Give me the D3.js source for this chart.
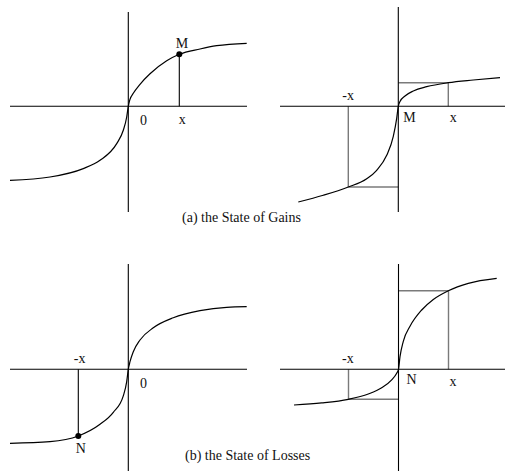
<!DOCTYPE html>
<html>
<head>
<meta charset="utf-8">
<script src="https://cdn.jsdelivr.net/npm/d3@7"></script>
<style>
  html, body { margin: 0; padding: 0; background: #fff; }
  svg { display: block; }
  text { font-family: "Liberation Serif", "Times New Roman", serif; font-size: 14px; fill: #111; }
</style>
</head>
<body>
<svg id="chart" width="505" height="471"></svg>
<script>
// ---- data (units relative to each panel's origin) ----
const valueCurveGains = [
  [-118.3, -74], [-78.3, -70.7], [-45, -62.3], [-28.3, -54], [-11.6, -37.3],
  [-5, -24], [-1.6, -10.7], [0, 0], [1.5, 6.5], [5, 13], [11.7, 22],
  [21.7, 32.5], [38.4, 45.5], [51, 52], [71.7, 57.3], [88.4, 60.6], [118.4, 63]
];
const weightedCurveGains = [
  [-100, -95.7], [-75, -89], [-50, -80.7], [-31.6, -72.5], [-21.6, -64],
  [-11.6, -49], [-5, -30], [-1.6, -12], [0, 0], [1.7, 4.8], [6.7, 10.3],
  [15, 15.3], [28.4, 19.6], [50, 23.6], [75, 26.3], [101.7, 28.7]
];
const valueCurveLosses = [
  [-118.3, -74], [-78.3, -72.4], [-50, -66.7], [-28.3, -55], [-15, -43],
  [-5, -26.5], [-1.6, -12.4], [0, 0], [1.7, 7.6], [5, 17.6], [11.7, 29.3],
  [25, 41.5], [45, 51.5], [71.7, 58.6], [98.4, 62], [118.4, 62.6]
];
const weightedCurveLosses = [
  [-104.5, -35.7], [-76.8, -33.6], [-50.2, -30], [-30.2, -24.7], [-16.8, -18.5],
  [-6.8, -10.5], [-1.8, -4], [0, 0], [1.5, 12.6], [4.8, 28], [11.5, 43],
  [23.2, 59.3], [34.8, 69.8], [49.8, 78.5], [69.8, 86], [98.2, 91]
];
const pointM = [51, 52];
const pointN = [-50, -66.7];
const boxGains = { xPos: 50, yPos: 23.6, xNeg: -50, yNeg: -80.7 };
const boxLosses = { xPos: 50, yPos: 78.5, xNeg: -50, yNeg: -30 };
const captions = ["(a) the State of Gains", "(b) the State of Losses"];

// ---- layout ----
const panels = [
  { ox: 128.3, oy: 106.3, xAxis: [-118.3, 118.7], yAxis: [-105.7, 94.3] },
  { ox: 398.3, oy: 106.3, xAxis: [-118.3, 106.7], yAxis: [-105.7, 99.3] },
  { ox: 128.3, oy: 369.3, xAxis: [-118.3, 118.7], yAxis: [-102, 105.3] },
  { ox: 398.5, oy: 369.3, xAxis: [-118.5, 106.5], yAxis: [-102, 105.3] }
];

const svg = d3.select("#chart");

function makeScales(p) {
  return {
    x: d3.scaleLinear().domain([-100, 100]).range([p.ox - 100, p.ox + 100]),
    y: d3.scaleLinear().domain([-100, 100]).range([p.oy + 100, p.oy - 100])
  };
}

function drawAxes(g, p, s) {
  g.append("line")
    .attr("x1", s.x(p.xAxis[0])).attr("x2", s.x(p.xAxis[1]))
    .attr("y1", s.y(0)).attr("y2", s.y(0))
    .attr("stroke", "#000").attr("stroke-width", 1.1);
  g.append("line")
    .attr("x1", s.x(0)).attr("x2", s.x(0))
    .attr("y1", s.y(p.yAxis[0])).attr("y2", s.y(p.yAxis[1]))
    .attr("stroke", "#000").attr("stroke-width", 1.1);
}

function drawCurve(g, data, s) {
  const line = d3.line()
    .x(d => s.x(d[0])).y(d => s.y(d[1]))
    .curve(d3.curveMonotoneX);
  g.append("path").datum(data)
    .attr("d", line)
    .attr("fill", "none").attr("stroke", "#000").attr("stroke-width", 1.2);
}

function drawBox(g, b, s) {
  const gray = "#7a7a7a";
  const segs = [
    [[0, b.yPos], [b.xPos, b.yPos]],
    [[b.xPos, b.yPos], [b.xPos, 0]],
    [[b.xNeg, 0], [b.xNeg, b.yNeg]],
    [[b.xNeg, b.yNeg], [0, b.yNeg]]
  ];
  g.selectAll("line.box").data(segs).enter().append("line")
    .attr("class", "box")
    .attr("x1", d => s.x(d[0][0])).attr("y1", d => s.y(d[0][1]))
    .attr("x2", d => s.x(d[1][0])).attr("y2", d => s.y(d[1][1]))
    .attr("stroke", gray).attr("stroke-width", 1.4);
}

function label(g, txt, x, y) {
  g.append("text").attr("x", x).attr("y", y).text(txt);
}

// Panel 1: value function, gains
{
  const p = panels[0], s = makeScales(p), g = svg.append("g");
  drawAxes(g, p, s);
  drawCurve(g, valueCurveGains, s);
  g.append("line")
    .attr("x1", s.x(pointM[0])).attr("x2", s.x(pointM[0]))
    .attr("y1", s.y(0)).attr("y2", s.y(pointM[1]))
    .attr("stroke", "#000").attr("stroke-width", 1.1);
  g.append("circle").attr("cx", s.x(pointM[0])).attr("cy", s.y(pointM[1])).attr("r", 3).attr("fill", "#000");
  label(g, "M", s.x(pointM[0]) - 3.5, s.y(pointM[1]) - 6);
  label(g, "0", s.x(0) + 11.7, s.y(0) + 18.5);
  label(g, "x", s.x(pointM[0]) - 0.5, s.y(0) + 18);
}

// Panel 2: weighted, gains
{
  const p = panels[1], s = makeScales(p), g = svg.append("g");
  drawBox(g, boxGains, s);
  drawAxes(g, p, s);
  drawCurve(g, weightedCurveGains, s);
  label(g, "-x", s.x(boxGains.xNeg) - 6, s.y(0) - 6.3);
  label(g, "M", s.x(0) + 5, s.y(0) + 15.7);
  label(g, "x", s.x(boxGains.xPos) + 1.5, s.y(0) + 15.7);
}

// Panel 3: value function, losses
{
  const p = panels[2], s = makeScales(p), g = svg.append("g");
  drawAxes(g, p, s);
  drawCurve(g, valueCurveLosses, s);
  g.append("line")
    .attr("x1", s.x(pointN[0])).attr("x2", s.x(pointN[0]))
    .attr("y1", s.y(0)).attr("y2", s.y(pointN[1]))
    .attr("stroke", "#000").attr("stroke-width", 1.1);
  g.append("circle").attr("cx", s.x(pointN[0])).attr("cy", s.y(pointN[1])).attr("r", 3).attr("fill", "#000");
  label(g, "-x", s.x(pointN[0]) - 4.5, s.y(0) - 6);
  label(g, "0", s.x(0) + 11.7, s.y(0) + 18.5);
  label(g, "N", s.x(pointN[0]) - 2.5, s.y(pointN[1]) + 17);
}

// Panel 4: weighted, losses
{
  const p = panels[3], s = makeScales(p), g = svg.append("g");
  drawBox(g, boxLosses, s);
  drawAxes(g, p, s);
  drawCurve(g, weightedCurveLosses, s);
  label(g, "-x", s.x(boxLosses.xNeg) - 6.5, s.y(0) - 6);
  label(g, "N", s.x(0) + 8, s.y(0) + 14.5);
  label(g, "x", s.x(boxLosses.xPos) + 1, s.y(0) + 17);
}

// Captions
svg.append("text").attr("x", 182).attr("y", 221.5).text(captions[0]);
svg.append("text").attr("x", 185).attr("y", 459.8).text(captions[1]);
</script>
</body>
</html>
